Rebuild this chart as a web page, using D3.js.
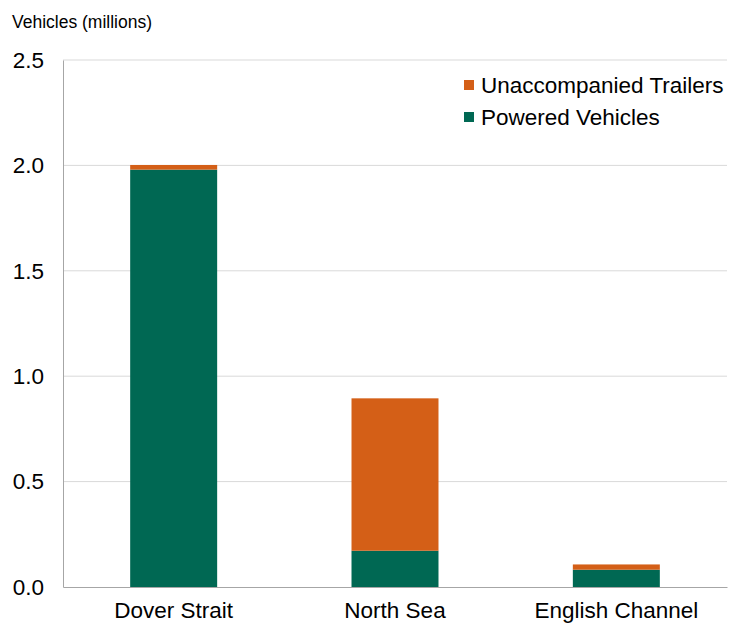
<!DOCTYPE html>
<html>
<head>
<meta charset="utf-8">
<script src="https://cdn.jsdelivr.net/npm/d3@7"></script>
<style>
  body { margin: 0; background: #fff; }
  text { font-family: "Liberation Sans", Arial, sans-serif; fill: #000; }
</style>
</head>
<body>
<svg width="737" height="623"></svg>
<script>
// routes and stacked values (millions of vehicles)
const routes = ['Dover Strait', 'North Sea', 'English Channel'];
const powered = [1.98, 0.172, 0.082];
const trailers = [0.022, 0.723, 0.025];
const yTicks = [0, 0.5, 1.0, 1.5, 2.0, 2.5];
const seriesNames = ['Unaccompanied Trailers', 'Powered Vehicles'];
const colors = { powered: '#006853', trailers: '#d45f17' };

const margin = { top: 60, right: 10, bottom: 36, left: 63 };
const width = 737 - margin.left - margin.right;
const height = 623 - margin.top - margin.bottom;

const svg = d3.select('svg');
const chart = svg.append('g').attr('transform', `translate(${margin.left}, ${margin.top})`);

const yScale = d3.scaleLinear().domain([0, 2.5]).range([height, 0]);
const xScale = d3.scaleBand().domain(routes).range([0, width])
  .paddingInner(0.607).paddingOuter(0.3035);

// gridlines
chart.append('g')
  .selectAll('line')
  .data(yTicks.slice(1))
  .join('line')
  .attr('x1', 0).attr('x2', width)
  .attr('y1', d => yScale(d)).attr('y2', d => yScale(d))
  .attr('stroke', '#d9d9d9').attr('stroke-width', 1);

// y axis
const yAxis = chart.append('g')
  .call(d3.axisLeft(yScale).tickValues(yTicks).tickFormat(d3.format('.1f')).tickSize(0).tickPadding(19));
yAxis.select('.domain').attr('stroke', '#a6a6a6');
yAxis.selectAll('text').attr('font-size', 22.5).style('font-family', '"Liberation Sans", Arial, sans-serif');

// stacked bars
const rows = routes.map((r, i) => ({ route: r, powered: powered[i], trailers: trailers[i] }));
const stack = d3.stack().keys(['powered', 'trailers'])(rows);
chart.append('g')
  .selectAll('g')
  .data(stack)
  .join('g')
  .attr('fill', d => colors[d.key])
  .selectAll('rect')
  .data(d => d)
  .join('rect')
  .attr('x', d => xScale(d.data.route))
  .attr('width', xScale.bandwidth())
  .attr('y', d => yScale(d[1]))
  .attr('height', d => yScale(d[0]) - yScale(d[1]));

// x axis
const xAxis = chart.append('g')
  .attr('transform', `translate(0, ${height})`)
  .call(d3.axisBottom(xScale).tickSize(0).tickPadding(15));
xAxis.select('.domain').attr('stroke', '#a6a6a6');
xAxis.selectAll('text').attr('font-size', 22.5).style('font-family', '"Liberation Sans", Arial, sans-serif');

// axis title
svg.append('text')
  .attr('x', 12).attr('y', 28)
  .attr('font-size', 17.5)
  .text('Vehicles (millions)');

// legend
const legend = svg.append('g').attr('transform', 'translate(464, 85)');
const legendColors = [colors.trailers, colors.powered];
seriesNames.forEach((name, i) => {
  const g = legend.append('g').attr('transform', `translate(0, ${i * 32})`);
  g.append('rect').attr('x', 0).attr('y', -5).attr('width', 10).attr('height', 10).attr('fill', legendColors[i]);
  g.append('text').attr('x', 17).attr('y', 0).attr('dy', '0.35em').attr('font-size', 22.5).text(name);
});
</script>
</body>
</html>
